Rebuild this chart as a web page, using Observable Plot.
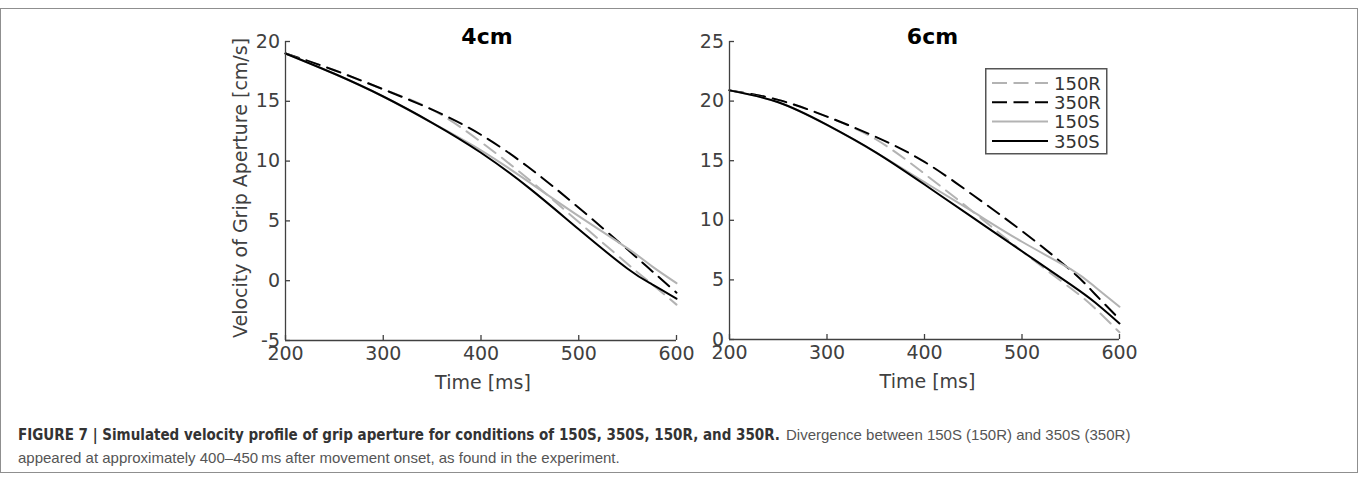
<!DOCTYPE html>
<html>
<head>
<meta charset="utf-8">
<script src="https://cdn.jsdelivr.net/npm/d3@7"></script>
<script src="https://cdn.jsdelivr.net/npm/@observablehq/plot@0.6"></script>
<style>
  html, body { margin: 0; padding: 0; background: #fff; }
  body { width: 1360px; height: 480px; position: relative; overflow: hidden; }
  #frame { position: absolute; left: 0px; top: 8px; width: 1356px; height: 463px; border: 1.5px solid #8f8f8f; }
  .panel { position: absolute; top: 0; }
  #legend, #caption { position: absolute; }
</style>
</head>
<body>
<div id="frame"></div>
<div id="p4" class="panel" style="left:220px"></div>
<div id="p6" class="panel" style="left:680px"></div>
<svg id="legend" style="left:985px;top:68px" width="123" height="87"></svg>
<svg id="caption" style="left:0px;top:420px" width="1360" height="60"></svg>
<script>
// ---------- data ----------
const times = [200, 250, 300, 350, 400, 450, 500, 550, 575, 600];
const series = ["150R", "350R", "150S", "350S"];
const xTicks = [200, 300, 400, 500, 600];
const xDomain = [200, 600];

// 4cm panel
const v4_150R = [19.0, 17.6, 16.0, 14.3, 11.6, 8.4, 4.9, 1.4, -0.3, -2.0];
const v4_350R = [19.0, 17.6, 16.0, 14.3, 12.2, 9.4, 6.1, 2.6, 0.8, -1.0];
const v4_150S = [19.0, 17.3, 15.4, 13.2, 10.9, 8.2, 5.4, 2.7, 1.2, -0.2];
const v4_350S = [19.0, 17.3, 15.4, 13.2, 10.7, 7.7, 4.3, 1.0, -0.3, -1.5];
const y4Ticks = [-5, 0, 5, 10, 15, 20];
const y4Domain = [-5, 20];

// 6cm panel
const v6_150R = [20.9, 20.1, 18.7, 16.8, 13.9, 10.7, 7.4, 4.3, 2.6, 0.6];
const v6_350R = [20.9, 20.1, 18.7, 17.0, 14.9, 12.1, 9.1, 5.8, 3.8, 1.7];
const v6_150S = [20.9, 19.9, 18.0, 15.7, 13.2, 10.7, 8.2, 5.9, 4.4, 2.75];
const v6_350S = [20.9, 19.9, 18.0, 15.7, 13.0, 10.2, 7.4, 4.6, 3.1, 1.35];
const y6Ticks = [0, 5, 10, 15, 20, 25];
const y6Domain = [0, 25];

const titles = ["4cm", "6cm"];
const xLabel = "Time [ms]";
const yLabel = "Velocity of Grip Aperture [cm/s]";
const captionBold = "FIGURE 7 | Simulated velocity profile of grip aperture for conditions of 150S, 350S, 150R, and 350R.";
const captionRest1 = "Divergence between 150S (150R) and 350S (350R)";
const captionLine2 = "appeared at approximately 400\u2013450\u2009ms after movement onset, as found in the experiment.";

// ---------- styles ----------
const LIGHT = "#b3b3b3";
const styles = {
  "150R": {stroke: LIGHT, dash: "14,8"},
  "350R": {stroke: "#000", dash: "14,8"},
  "150S": {stroke: LIGHT, dash: null},
  "350S": {stroke: "#000", dash: null}
};
const AXIS = "#404040";
const FONT = '"DejaVu Sans", "Liberation Sans", sans-serif';

function panel(el, cfg) {
  const {vals, yDomain, yTicks, title, marginLeft, plotW, plotH, titleDx, xlabDx, showYLabel} = cfg;
  const marginTop = 41, marginBottom = 60, marginRight = 19;
  const marks = [];
  for (const s of series) {
    const data = times.map((t, i) => ({t, v: vals[s][i]}));
    marks.push(Plot.line(data, {
      x: "t", y: "v", stroke: styles[s].stroke, strokeWidth: 2,
      strokeDasharray: styles[s].dash, curve: "natural"
    }));
  }
  marks.push(
    Plot.ruleX([xDomain[0]], {stroke: AXIS, strokeWidth: 1.3}),
    Plot.ruleY([yDomain[0]], {stroke: AXIS, strokeWidth: 1.3}),
    Plot.tickX(xTicks, {x: d => d, stroke: AXIS, strokeWidth: 1.3, insetTop: plotH - 5}),
    Plot.tickY(yTicks, {y: d => d, stroke: AXIS, strokeWidth: 1.3, insetRight: plotW - 5}),
    Plot.axisX({ticks: xTicks, tickSize: 0, tickPadding: 6, tickFormat: d => String(d), label: null, fontSize: 19}),
    Plot.axisY({ticks: yTicks, tickSize: 0, tickPadding: 5.5, tickFormat: d => String(d), label: null, fontSize: 19}),
    Plot.text([title], {text: d => d, frameAnchor: "top", dx: titleDx, dy: 2, lineAnchor: "bottom",
      fontSize: 22, fontWeight: "bold", fill: "#000"}),
    Plot.text([xLabel], {text: d => d, frameAnchor: "bottom", dx: xlabDx, dy: 48, lineAnchor: "bottom",
      fontSize: 19, fill: AXIS})
  );
  if (showYLabel) {
    marks.push(Plot.text([yLabel], {text: d => d, frameAnchor: "left", dx: -45, dy: -3, rotate: -90,
      textAnchor: "middle", lineAnchor: "middle", fontSize: 19, fill: AXIS}));
  }
  const chart = Plot.plot({
    width: marginLeft + plotW + marginRight,
    height: marginTop + plotH + marginBottom,
    marginLeft, marginRight, marginTop, marginBottom,
    x: {domain: xDomain},
    y: {domain: yDomain},
    style: {fontFamily: FONT, fontSize: "19px", color: AXIS, background: "transparent", overflow: "visible"},
    marks
  });
  el.appendChild(chart);
}

panel(document.getElementById("p4"), {
  vals: {"150R": v4_150R, "350R": v4_350R, "150S": v4_150S, "350S": v4_350S},
  yDomain: y4Domain, yTicks: y4Ticks, title: titles[0],
  marginLeft: 65, plotW: 391, plotH: 299, titleDx: 6, xlabDx: 2, showYLabel: true
});
panel(document.getElementById("p6"), {
  vals: {"150R": v6_150R, "350R": v6_350R, "150S": v6_150S, "350S": v6_350S},
  yDomain: y6Domain, yTicks: y6Ticks, title: titles[1],
  marginLeft: 49, plotW: 390, plotH: 298, titleDx: 8, xlabDx: 3, showYLabel: false
});

// ---------- legend ----------
const lg = d3.select("#legend");
lg.append("rect").attr("x", 0.75).attr("y", 0.75).attr("width", 121).attr("height", 85)
  .attr("fill", "#fff").attr("stroke", "#555").attr("stroke-width", 1.5);
series.forEach((s, i) => {
  const yc = 15 + i * 19.3;
  lg.append("line").attr("x1", 7).attr("x2", 63).attr("y1", yc).attr("y2", yc)
    .attr("stroke", styles[s].stroke).attr("stroke-width", 2)
    .attr("stroke-dasharray", styles[s].dash ? "15,6.5" : null);
  lg.append("text").attr("x", 69).attr("y", yc + 6.8).text(s)
    .attr("font-family", FONT).attr("font-size", 18).attr("fill", "#333");
});

// ---------- caption ----------
const cap = d3.select("#caption");
const CAPFONT = '"Liberation Sans Narrow", "DejaVu Sans Condensed", "Liberation Sans", sans-serif';
const CAPREG = '"Liberation Sans", Arial, sans-serif';
cap.append("text").attr("x", 18).attr("y", 20).attr("textLength", 762).attr("lengthAdjust", "spacingAndGlyphs")
  .attr("font-family", CAPFONT).attr("font-weight", "bold").attr("font-size", 15).attr("fill", "#333").text(captionBold);
cap.append("text").attr("x", 786).attr("y", 20)
  .attr("font-family", CAPREG).attr("font-size", 15).attr("fill", "#555").text(captionRest1);
cap.append("text").attr("x", 18).attr("y", 43)
  .attr("font-family", CAPREG).attr("font-size", 15).attr("fill", "#555").text(captionLine2);
</script>
</body>
</html>
